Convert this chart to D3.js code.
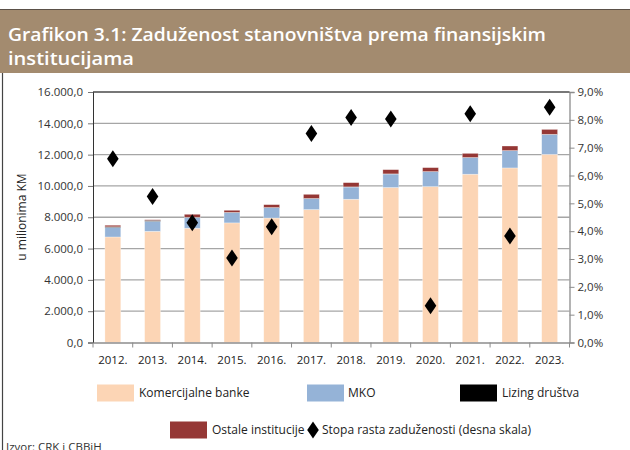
<!DOCTYPE html>
<html><head><meta charset="utf-8">
<script src="https://cdn.jsdelivr.net/npm/d3@7"></script>
<style>
body{margin:0;background:#fff;}
svg text{font-family:"Open Sans","Noto Sans",sans-serif;}
</style></head>
<body><svg id="c" width="630" height="450"></svg>
<script>
const years = ["2012.","2013.","2014.","2015.","2016.","2017.","2018.","2019.","2020.","2021.","2022.","2023."];
const komercijalneBanke = [6740,7100,7300,7640,7950,8490,9150,9900,9960,10750,11150,12020];
const mko = [610,640,680,660,660,700,780,860,950,1060,1100,1270];
const lizing = [40,60,20,15,15,15,10,10,10,10,10,10];
const ostale = [100,40,190,130,180,260,270,270,250,260,290,310];
const stopaRasta = [6.6,5.25,4.3,3.04,4.16,7.51,8.08,8.03,1.32,8.22,3.83,8.45];
const leftTicks = [0,2000,4000,6000,8000,10000,12000,14000,16000];
const rightTicks = [0,1,2,3,4,5,6,7,8,9];

const seriesNames = ["Komercijalne banke","MKO","Lizing društva","Ostale institucije"];
const colors = ["#fcd5b5","#95b3d7","#000000","#953735"];
const rows = years.map((y,i)=>({year:y,"Komercijalne banke":komercijalneBanke[i],"MKO":mko[i],"Lizing društva":lizing[i],"Ostale institucije":ostale[i]}));

const svg = d3.select("#c");
const fmtL = d => d3.format(",.1f")(d).replace(/,/g,"#").replace(".",",").replace(/#/g,".");
const fmtR = d => d.toFixed(1).replace(".",",")+"%";

// title band
svg.append("rect").attr("x",0).attr("y",9).attr("width",630).attr("height",1.5).attr("fill","#5a5048");
svg.append("rect").attr("x",0).attr("y",10).attr("width",630).attr("height",63).attr("fill","#a38b6f");
svg.append("text").attr("x",8).attr("y",41).attr("fill","#fff").attr("font-size",18.5).attr("font-weight",600)
  .attr("textLength",538).attr("lengthAdjust","spacingAndGlyphs")
  .text("Grafikon 3.1: Zaduženost stanovništva prema finansijskim");
svg.append("text").attr("x",8).attr("y",65).attr("fill","#fff").attr("font-size",18.5).attr("font-weight",600)
  .attr("textLength",126).attr("lengthAdjust","spacingAndGlyphs")
  .text("institucijama");
// left frame line
svg.append("line").attr("x1",2.5).attr("x2",2.5).attr("y1",73).attr("y2",450).attr("stroke","#444").attr("stroke-width",1.2);

const L=93,R=569.5,T=92,B=342.5;
const x = d3.scaleBand().domain(years).range([L,R]).paddingInner(0.6).paddingOuter(0.3);
const xb = d3.scaleBand().domain(years).range([L,R]);
const y = d3.scaleLinear().domain([0,16000]).range([B,T]);
const y2 = d3.scaleLinear().domain([0,9]).range([B,T]);

// gridlines
svg.append("g").selectAll("line").data(leftTicks.slice(1)).join("line")
  .attr("x1",L).attr("x2",R).attr("y1",d=>y(d)).attr("y2",d=>y(d))
  .attr("stroke","#a6a6a6").attr("stroke-width",1.3);

// bars
const stack = d3.stack().keys(seriesNames)(rows);
svg.append("g").selectAll("g").data(stack).join("g").attr("fill",(d,i)=>colors[i])
  .selectAll("rect").data(d=>d).join("rect")
  .attr("x",d=>x(d.data.year)).attr("width",x.bandwidth())
  .attr("y",d=>y(d[1])).attr("height",d=>Math.max(0,y(d[0])-y(d[1])))
  .attr("stroke","#ffffff").attr("stroke-opacity",0.5).attr("stroke-width",0.6);

// axes
const gl = svg.append("g").attr("transform",`translate(${L},0)`)
  .call(d3.axisLeft(y).tickValues(leftTicks).tickFormat(fmtL).tickSize(5).tickPadding(5));
gl.select(".domain").attr("stroke","#333");
gl.selectAll(".tick line").attr("stroke","#777");
gl.selectAll("text").attr("font-size",11.5).attr("fill","#333");

const gr = svg.append("g").attr("transform",`translate(${R},0)`)
  .call(d3.axisRight(y2).tickValues(rightTicks).tickFormat(fmtR).tickSize(5).tickPadding(3));
gr.select(".domain").attr("stroke","#8c8c8c").attr("stroke-width",1.3);
gr.selectAll(".tick line").attr("stroke","#8c8c8c");
gr.selectAll("text").attr("font-size",11.5).attr("fill","#333");

// top border
svg.append("line").attr("x1",L).attr("x2",R).attr("y1",T).attr("y2",T).attr("stroke","#333").attr("stroke-width",1.2);

const gb = svg.append("g").attr("transform",`translate(0,${B})`)
  .call(d3.axisBottom(xb).tickSize(0).tickPadding(13));
gb.select(".domain").attr("stroke","#8c8c8c").attr("stroke-width",1.3);
gb.selectAll("text").attr("font-size",11.5).attr("fill","#222");
svg.append("g").selectAll("line").data(years.concat(["end"])).join("line")
  .attr("x1",(d,i)=>L+i*xb.step()).attr("x2",(d,i)=>L+i*xb.step())
  .attr("y1",B).attr("y2",B+5).attr("stroke","#8c8c8c");

// y-axis title
svg.append("text").attr("transform","translate(26,217) rotate(-90)").attr("text-anchor","middle")
  .attr("font-size",12).attr("fill","#222").text("u milionima KM");

// diamonds
const dia = "M0,-8.5L5.8,0L0,8.5L-5.8,0Z";
svg.append("g").selectAll("path").data(stopaRasta).join("path")
  .attr("d",dia).attr("fill","#000")
  .attr("transform",(d,i)=>`translate(${xb(years[i])+xb.bandwidth()/2},${y2(d)})`);

// legend
const leg = svg.append("g").attr("font-size",12).attr("fill","#222");
const items = [
  {t:"Komercijalne banke",c:colors[0],sx:97,tx:139,y:393},
  {t:"MKO",c:colors[1],sx:307,tx:348,y:393},
  {t:"Lizing društva",c:colors[2],sx:460,tx:502,y:393},
  {t:"Ostale institucije",c:colors[3],sx:170,tx:212,y:430}
];
items.forEach(it=>{
  leg.append("rect").attr("x",it.sx).attr("y",it.y-8.5).attr("width",37).attr("height",17).attr("fill",it.c);
  leg.append("text").attr("x",it.tx).attr("y",it.y+4).attr("fill","#222").text(it.t);
});
leg.append("path").attr("d",dia).attr("transform","translate(313,430)").attr("fill","#000");
leg.append("text").attr("x",322).attr("y",434).attr("fill","#222").text("Stopa rasta zaduženosti (desna skala)");

svg.append("text").attr("x",6).attr("y",451).attr("font-size",11.5).attr("fill","#333").text("Izvor: CRK i CBBiH");
</script></body></html>
